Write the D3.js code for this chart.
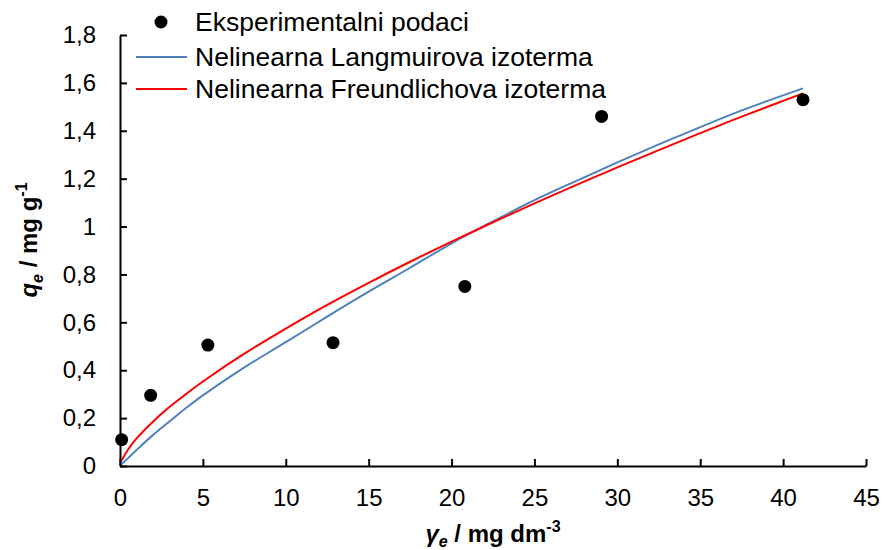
<!DOCTYPE html>
<html>
<head>
<meta charset="utf-8">
<script src="https://cdn.jsdelivr.net/npm/d3@7"></script>
<style>
  body { margin: 0; background: #fff; }
  svg { font-family: "Liberation Sans", Arial, sans-serif; }
</style>
</head>
<body>
<svg id="chart" width="883" height="550"></svg>
<script>
// experimental points (gamma_e, q_e)
const expX = [0.1, 1.85, 5.3, 12.85, 20.8, 29.05, 41.2];
const expY = [0.11, 0.295, 0.505, 0.515, 0.75, 1.46, 1.53];

// fitted curves, values
const curveX = [0.1, 0.5, 1, 2, 3, 4, 5, 7.5, 10, 12.5, 15, 17.5, 20, 22.5, 25, 27.5, 30, 32.5, 35, 37.5, 41.2];
const langmuirY = [0.007, 0.034, 0.067, 0.13, 0.187, 0.243, 0.295, 0.412, 0.517, 0.624, 0.728, 0.828, 0.93, 1.022, 1.11, 1.19, 1.268, 1.343, 1.415, 1.485, 1.577];
const freundlichY = [0.023, 0.07, 0.115, 0.186, 0.247, 0.302, 0.353, 0.469, 0.574, 0.673, 0.765, 0.853, 0.937, 1.018, 1.097, 1.173, 1.247, 1.319, 1.39, 1.459, 1.556];

const xTicks = [0, 5, 10, 15, 20, 25, 30, 35, 40, 45];
const yTicks = [0, 0.2, 0.4, 0.6, 0.8, 1, 1.2, 1.4, 1.6, 1.8];

const legendLabels = ["Eksperimentalni podaci", "Nelinearna Langmuirova izoterma", "Nelinearna Freundlichova izoterma"];

const svg = d3.select("#chart");

const x = d3.scaleLinear().domain([0, 45]).range([120, 866]);
const y = d3.scaleLinear().domain([0, 1.8]).range([466, 35]);

const fmt = d => String(d).replace(".", ",");

// axes, ticks pointing inward
const xAxis = svg.append("g")
    .attr("transform", `translate(0,${y(0)})`)
    .call(d3.axisBottom(x).tickValues(xTicks).tickSizeInner(-7).tickSizeOuter(0).tickFormat(fmt));
const yAxis = svg.append("g")
    .attr("transform", `translate(${x(0)},0)`)
    .call(d3.axisLeft(y).tickValues(yTicks).tickSizeInner(-7).tickSizeOuter(0).tickFormat(fmt));

[xAxis, yAxis].forEach(g => {
    g.select(".domain").attr("stroke", "#000").attr("stroke-width", 2);
    g.selectAll(".tick line").attr("stroke", "#000").attr("stroke-width", 2);
    g.selectAll(".tick text").attr("fill", "#000").style("font-size", "24px");
});
xAxis.selectAll(".tick text").attr("y", 23);
yAxis.selectAll(".tick text").attr("x", -24);

// curves
const line = d3.line().x(d => x(d[0])).y(d => y(d[1])).curve(d3.curveCatmullRom);

svg.append("path")
    .datum(curveX.map((v, i) => [v, langmuirY[i]]))
    .attr("d", line)
    .attr("fill", "none")
    .attr("stroke", "#4f81bd")
    .attr("stroke-width", 2);

svg.append("path")
    .datum(curveX.map((v, i) => [v, freundlichY[i]]))
    .attr("d", line)
    .attr("fill", "none")
    .attr("stroke", "#ff0000")
    .attr("stroke-width", 2);

// experimental points
svg.append("g").selectAll("circle")
    .data(expX.map((v, i) => [v, expY[i]]))
    .join("circle")
    .attr("cx", d => x(d[0]))
    .attr("cy", d => y(d[1]))
    .attr("r", 6.5)
    .attr("fill", "#000");

// legend
const legend = svg.append("g");
const rowY = [22, 57, 89];
legend.append("circle").attr("cx", 161).attr("cy", rowY[0]).attr("r", 6.5).attr("fill", "#000");
legend.append("line").attr("x1", 136).attr("x2", 187).attr("y1", rowY[1]).attr("y2", rowY[1])
    .attr("stroke", "#4f81bd").attr("stroke-width", 2);
legend.append("line").attr("x1", 136).attr("x2", 187).attr("y1", rowY[2]).attr("y2", rowY[2])
    .attr("stroke", "#ff0000").attr("stroke-width", 2);
legend.selectAll("text")
    .data(legendLabels)
    .join("text")
    .attr("x", 195)
    .attr("y", (d, i) => rowY[i])
    .attr("dy", "0.35em")
    .style("font-size", "26.5px")
    .text(d => d);

// axis titles
const xt = svg.append("text")
    .attr("x", x(22.5))
    .attr("y", 542)
    .attr("text-anchor", "middle")
    .style("font-size", "24px")
    .style("font-weight", "bold");
xt.append("tspan").style("font-style", "italic").text("γ");
xt.append("tspan").style("font-style", "italic").style("font-size", "16px").attr("dy", 5).text("e");
xt.append("tspan").attr("dy", -5).text(" / mg dm");
xt.append("tspan").style("font-size", "16px").attr("dy", -10).text("-3");

const yt = svg.append("text")
    .attr("transform", "translate(37,240) rotate(-90)")
    .attr("text-anchor", "middle")
    .style("font-size", "24px")
    .style("font-weight", "bold");
yt.append("tspan").style("font-style", "italic").text("q");
yt.append("tspan").style("font-style", "italic").style("font-size", "16px").attr("dy", 6).text("e");
yt.append("tspan").attr("dy", -6).text(" / mg g");
yt.append("tspan").style("font-size", "16px").attr("dy", -10).text("-1");
</script>
</body>
</html>
